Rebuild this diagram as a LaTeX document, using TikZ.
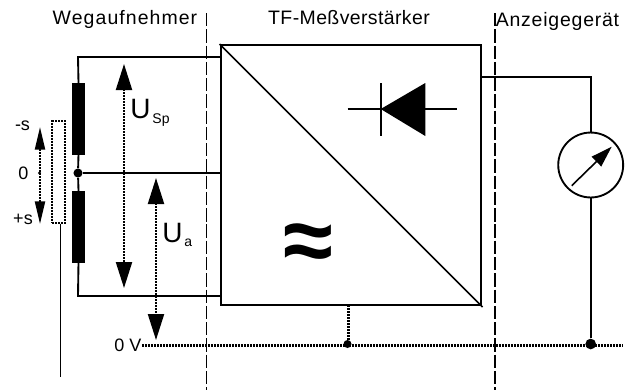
\documentclass[tikz,border=0pt]{standalone}
\usepackage{fontspec}
\setmainfont{Liberation Sans}
\usetikzlibrary{arrows.meta,positioning}
\newcommand{\sublabel}[2]{#1\hspace{1.5pt}\raisebox{-3.5pt}{\fontsize{10.5}{12}\selectfont #2}}
\begin{document}
\begin{tikzpicture}[
    x=0.75pt, y=-0.75pt,
    wire/.style={draw, line width=1.4pt},
    thinwire/.style={draw, line width=1.2pt},
    boundary/.style={draw, line width=0.8pt, dash pattern=on 10pt off 2.2pt},
    dotline/.style={draw, line width=1.6pt, dash pattern=on 1.5pt off 0.75pt},
    coilbox/.style={rectangle, draw, fill=black, minimum width=9.2pt, minimum height=53pt, inner sep=0pt},
    junction/.style={circle, fill=black, inner sep=0pt, minimum size=#1},
    voltarrow/.style={dotline, {Triangle[length=19.5pt,width=12pt]}-{Triangle[length=19.5pt,width=12pt]}},
    movearrow/.style={dotline, {Triangle[length=17pt,width=7.5pt]}-{Triangle[length=17pt,width=7.5pt]}},
    caption/.style={font=\addfontfeature{LetterSpace=#1}\fontsize{14.6}{16}\selectfont, inner sep=0pt},
    smalltext/.style={font=\fontsize{13.5}{15}\selectfont, inner sep=0pt},
    voltage/.style={font=\fontsize{21}{23}\selectfont, inner sep=0pt, anchor=west}
]
\useasboundingbox (0,0) rectangle (634,390);

\node (WegLabel) [caption=5.5] at (125,19) {Wegaufnehmer};
\node (TFLabel) [caption=2] at (349,18) {TF-Meßverstärker};
\node (AnzLabel) [caption=4] at (557.5,21) {Anzeigegerät};

\coordinate (BoundTopA) at (206.7,13);
\coordinate (BoundEndA) at (206.7,390);
\coordinate (BoundTopB) at (495,13);
\coordinate (BoundEndB) at (495,390);
\draw [boundary] (BoundTopA) -- (BoundEndA);
\draw [boundary] (BoundTopB) -- (BoundEndB);

\node (Amp) [rectangle, draw, line width=1.5pt, minimum size=195pt, inner sep=0pt] at (350.5,175) {};
\coordinate (DiagEnd) at (482.5,307);
\draw [thinwire] (Amp.north west) -- (DiagEnd);

\node (CoilUp) [coilbox] at (78.5,118.5) {};
\node (CoilDown) [coilbox] at (78.5,226.5) {};
\node (Tap) [junction=6.8pt] at (78,173) {};
\node (Core) [rectangle, draw, dotline, line width=1.1pt, minimum width=9.5pt, minimum height=76.5pt, inner sep=0pt] at (58.5,172) {};
\coordinate (RodEnd) at (60.5,377);
\draw [wire] (Core.south -| RodEnd) -- (RodEnd);

\coordinate (TopCorner) at (78,57);
\coordinate (TopIn) at (220.5,57);
\coordinate (BotCorner) at (78,296);
\coordinate (BotIn) at (220.5,296);
\coordinate (MidIn) at (220.5,173);
\draw [wire] (CoilUp.north) -- (TopCorner) -- (TopIn);
\draw [wire] (CoilDown.south) -- (BotCorner) -- (BotIn);
\draw [wire] (CoilUp.south) -- (Tap) -- (CoilDown.north);
\draw [wire] (Tap) -- (MidIn);

\coordinate (MoveA) at (40,127);
\coordinate (MoveB) at (40,224);
\draw [movearrow] (MoveA) -- (MoveB);
\node (MoveZero) [junction=2.5pt] at (39.5,173) {};
\node (MinusS) [smalltext] at (22.5,126) {-s};
\node (ZeroS) [smalltext] at (23.5,173) {0};
\node (PlusS) [smalltext] at (23,219) {+s};

\coordinate (SpA) at (124,64);
\coordinate (SpB) at (124,288);
\draw [voltarrow] (SpA) -- (SpB);
\node (SpLabel) [voltage] at (130,113) {\sublabel{U}{Sp}};

\coordinate (UaA) at (156,178);
\coordinate (UaB) at (156,340);
\draw [voltarrow] (UaA) -- (UaB);
\node (UaLabel) [voltage] at (162,235) {\sublabel{U}{a}};

\node (ZeroV) [smalltext] at (128,345) {0 V};
\coordinate (GroundEnd) at (623,345.5);
\draw [dotline] (ZeroV.east |- GroundEnd) -- (GroundEnd);
\node (GndAmp) [junction=6pt] at (347.5,344) {};
\node (GndMeter) [junction=8pt] at (590.7,344) {};
\coordinate (AmpFoot) at (348.5,305);
\draw [dotline] (AmpFoot) -- (AmpFoot |- GndAmp);

\coordinate (DiodeL) at (347.7,109);
\coordinate (DiodeR) at (456.7,109);
\coordinate (DiodeTip) at (380.7,109);
\coordinate (BarTop) at (380.7,83);
\coordinate (BarEnd) at (380.7,136);
\coordinate (BaseTop) at (425.3,83);
\coordinate (BaseEnd) at (425.3,136);
\draw [thinwire] (DiodeL) -- (DiodeR);
\draw [thinwire] (BarTop) -- (BarEnd);
\fill (DiodeTip) -- (BaseTop) -- (BaseEnd) -- cycle;

\node (Approx) [inner sep=0pt, font=\bfseries\fontsize{68}{70}\selectfont] at (308,248) {≈};

\node (Meter) [circle, draw, line width=1.4pt, minimum size=48.7pt, inner sep=0pt] at (590.7,165) {};
\coordinate (AmpOut) at (481,77);
\coordinate (OutCorner) at (590.7,77);
\draw [wire] (AmpOut) -- (OutCorner) -- (Meter.north);
\draw [wire] (Meter.south) -- (GndMeter);
\coordinate (NeedleA) at (571.7,185.7);
\coordinate (NeedleB) at (611.7,146.7);
\draw [thinwire, -{Triangle[length=16pt,width=10pt]}] (NeedleA) -- (NeedleB);
\end{tikzpicture}
\end{document}
